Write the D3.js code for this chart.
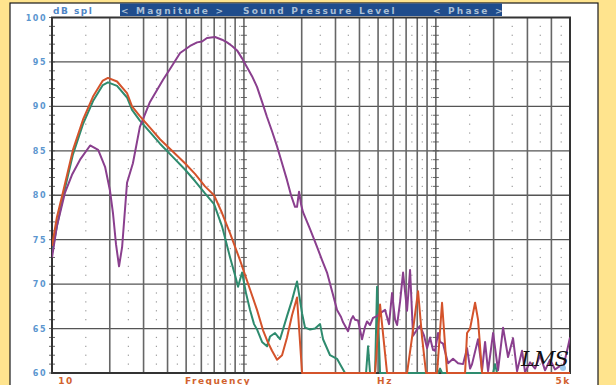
<!DOCTYPE html>
<html>
<head>
<meta charset="utf-8">
<script src="https://cdn.jsdelivr.net/npm/d3@7"></script>
<style>
  body { margin: 0; background: #ffe48e; }
  svg { display: block; font-family: "DejaVu Sans", sans-serif; }
</style>
</head>
<body>
<div id="container"></div>
<script>

// Chart data (frequency in Hz, level in dB spl)
const redSeries = [
  [10, 74.3], [10.6, 77.5], [11.4, 80.3], [12.86, 85.1], [14.5, 88.5], [16.36, 91.1],
  [18.4, 92.9], [19.57, 93.2], [21.82, 92.8], [24.6, 91.5], [26.12, 90.0], [28.7, 88.9],
  [32.4, 87.6], [36.54, 86.3], [42.2, 85.0], [49.3, 83.6], [55.6, 82.4], [62.7, 81.0],
  [69.9, 80.0], [76.9, 78.0], [84.7, 75.7], [95.4, 72.7], [107.6, 69.4], [117.0, 67.1],
  [125.8, 64.8], [133.6, 63.4], [140.1, 62.5], [148.8, 61.5], [158.0, 62.0], [167.7, 64.0],
  [178.1, 66.5], [189.1, 68.5], [200.9, 60], [482.2, 60], [512, 67.7], [556.9, 60],
  [707.9, 60], [751.6, 64], [807.8, 69.2], [847.6, 64], [889.1, 60], [1015, 60],
  [1077, 67.9], [1144, 60], [1420, 60], [1454, 64.5], [1508, 65], [1601, 67.9],
  [1659, 66], [1741, 60], [5000, 60]
];

const greenSeries = [
  [10, 73.5], [10.6, 76.5], [11.4, 79.8], [12.86, 84.6], [14.5, 88.0], [16.36, 90.6],
  [18.4, 92.4], [19.57, 92.7], [21.82, 92.3], [24.6, 91.0], [26.12, 89.6], [28.7, 88.4],
  [32.4, 87.1], [36.54, 85.8], [42.2, 84.4], [49.3, 82.9], [55.6, 81.6], [62.7, 80.2],
  [69.9, 79.0], [76.9, 76.5], [84.7, 73.0], [89.9, 71.0], [93.2, 69.7], [97.8, 71.3],
  [102.5, 69.0], [107.6, 67.1], [112.9, 65.5], [117.0, 64.9], [124.3, 63.5], [131.9, 63.0],
  [136.8, 64.1], [145.2, 64.5], [154.2, 63.8], [167.7, 66.4], [178.1, 68.2], [189.1, 70.3],
  [200.9, 66.7], [208.2, 65.1], [221.1, 64.9], [234.7, 65.0], [249.3, 65.5], [258.4, 63.8],
  [281, 62.0], [305.6, 61.6], [324.5, 60.6], [336.4, 60], [432.8, 60], [443.3, 63],
  [454.1, 60], [482.2, 60], [493.9, 69.7], [512, 60], [1027, 60], [1052, 60.5],
  [1077, 60], [1987, 60], [2035, 61], [2084, 60], [5000, 60]
];

const purpleSeries = [
  [10, 73.0], [10.6, 76.5], [11.69, 80.3], [12.71, 82.3], [14.0, 84.0], [15.8, 85.6],
  [17.4, 85.1], [18.9, 83.2], [20.06, 80.5], [20.78, 78.0], [21.55, 74.5], [22.35, 72.0],
  [23.2, 74.2], [24.6, 81.4], [26.4, 83.6], [28.7, 87.7], [32.4, 90.5], [37.9, 93.0],
  [41.2, 94.2], [46.5, 96.0], [52.4, 96.8], [57.0, 97.2], [60.5, 97.3], [64.2, 97.7],
  [70.7, 97.8], [76.9, 97.5], [81.7, 97.2], [86.7, 96.8], [92.1, 96.3], [97.8, 95.4],
  [103.8, 94.4], [110.2, 93.4], [117.0, 92.2], [124.3, 90.5], [131.9, 88.8], [140.1, 87.2],
  [148.8, 85.5], [158.0, 83.6], [167.7, 81.7], [176.0, 80.0], [184.6, 78.7], [189.1, 78.7],
  [193.7, 80.4], [198.4, 79.0], [203.2, 78.1], [221.1, 76.2], [240.4, 74.2], [255.3, 72.7],
  [271, 71.3], [287.9, 69.2], [305.6, 67.1], [320.6, 66.3], [328.5, 65.7], [348.8, 64.7],
  [361.5, 66.0], [370.3, 66.4], [379.3, 66.0], [393.2, 65.9], [412.5, 63.8], [427.6, 65.2],
  [438, 65.8], [454.1, 65.4], [470.8, 66.2], [493.9, 66.4], [518.2, 66.8], [543.7, 67.1],
  [570.4, 65.5], [591.3, 69.0], [613, 66.0], [628, 65.4], [650.9, 68.0], [674.8, 71.3],
  [707.9, 67.0], [733.9, 71.6], [760.7, 64.2], [798.1, 64.9], [827.4, 65.3], [868.2, 64.2],
  [899.9, 62.8], [932.8, 64.0], [966.9, 62.6], [990.4, 62.5], [1027, 64.5], [1052, 63.5],
  [1090, 63.3], [1158, 61.1], [1229, 61.6], [1305, 61.1], [1387, 61.0], [1454, 62.8],
  [1508, 60.5], [1544, 61.0], [1659, 63.8], [1741, 60.3], [1805, 63.5], [1871, 60.2],
  [1987, 64.5], [2109, 60.3], [2240, 65.1], [2378, 61.8], [2525, 63.9], [2649, 60.2],
  [2813, 62.5], [2916, 60.1], [3097, 61.2], [3288, 60.5], [3491, 62.0], [3707, 60.3],
  [3936, 61.5], [4180, 60.4], [4438, 60.8], [4601, 60.6], [4886, 63.0], [5000, 64.0]
];

// Axis labels
const dbTicks = [60, 65, 70, 75, 80, 85, 90, 95, 100];
const majorFreqs = [20, 30, 40, 50, 60, 70, 80, 90, 100, 200, 300, 400, 500, 600, 700, 800, 900, 1000, 2000, 3000, 4000];
const minorFreqs = [15, 25, 35, 45, 55, 65, 75, 85, 95, 150, 250, 350, 450, 550, 650, 750, 850, 950, 1500, 2500, 3500, 4500];
const rulerFreqs = [100, 1000];
const headerTexts = ["< Magnitude >", "Sound Pressure Level", "< Phase >"];

// Declare the chart dimensions
const width = 616;
const height = 385;
const marginTop = 17.5;
const marginBottom = 12;
const marginLeft = 52;
const marginRight = 46;

const x = d3.scaleLog()
    .domain([10, 5000])
    .range([marginLeft, width - marginRight]);

const y = d3.scaleLinear()
    .domain([60, 100])
    .range([height - marginBottom, marginTop]);

const svg = d3.select("#container")
    .append("svg")
    .attr("width", width)
    .attr("height", height);

// yellow backdrop + white sheet
svg.append("rect")
    .attr("width", width)
    .attr("height", height)
    .attr("fill", "#ffe48e");

svg.append("rect")
    .attr("x", 10)
    .attr("y", 3)
    .attr("width", 588)
    .attr("height", 400)
    .attr("fill", "#ffffff")
    .attr("stroke", "#1a1a1a")
    .attr("stroke-width", 1.2);

// header band
svg.append("rect")
    .attr("x", 120)
    .attr("y", 3.5)
    .attr("width", 382)
    .attr("height", 12.5)
    .attr("fill", "#1f4c8c");

svg.append("text")
    .attr("x", 53)
    .attr("y", 13.5)
    .attr("fill", "#4f86c6")
    .style("font-size", "9px")
    .style("font-weight", "bold")
    .style("letter-spacing", "1.5px")
    .text("dB spl");

svg.selectAll("text.header")
    .data(headerTexts)
    .enter()
    .append("text")
    .attr("class", "header")
    .attr("x", function(d, i) {
        return [121, 243, 433][i];
    })
    .attr("y", 13.5)
    .attr("fill", "#a9bfd6")
    .style("font-size", "9px")
    .style("font-weight", "bold")
    .style("letter-spacing", "2.2px")
    .text(function(d) { return d; });

// dotted minor lines: one dot per dB
const dotRows = d3.range(61, 100).filter(function(d) { return d % 5 !== 0; });
minorFreqs.forEach(function(f) {
    svg.selectAll(null)
        .data(dotRows)
        .enter()
        .append("rect")
        .attr("x", x(f) - 0.6)
        .attr("y", function(d) { return y(d) - 0.6; })
        .attr("width", 1.2)
        .attr("height", 1.2)
        .attr("fill", "#9a9a9a");
});

// horizontal grid lines every 5 dB
svg.selectAll("line.h")
    .data(dbTicks.slice(1, -1))
    .enter()
    .append("line")
    .attr("class", "h")
    .attr("x1", x(10))
    .attr("x2", x(5000))
    .attr("y1", function(d) { return y(d); })
    .attr("y2", function(d) { return y(d); })
    .style("stroke", "#555")
    .style("stroke-width", 1.3);

// vertical grid lines
svg.selectAll("line.v")
    .data(majorFreqs)
    .enter()
    .append("line")
    .attr("class", "v")
    .attr("x1", function(d) { return x(d); })
    .attr("x2", function(d) { return x(d); })
    .attr("y1", y(100))
    .attr("y2", y(60))
    .style("stroke", "#666")
    .style("stroke-width", 1.6);

// dB ruler ticks on the left axis and on the 100 Hz / 1 kHz lines
const rulerRows = d3.range(60, 100.5, 1);
[10].concat(rulerFreqs).forEach(function(f) {
    svg.selectAll(null)
        .data(rulerRows)
        .enter()
        .append("line")
        .attr("x1", x(f) - 3)
        .attr("x2", x(f) + 3)
        .attr("y1", function(d) { return y(d); })
        .attr("y2", function(d) { return y(d); })
        .style("stroke", "#555")
        .style("stroke-width", 0.9);
});

// plot frame
svg.append("rect")
    .attr("x", x(10))
    .attr("y", y(100))
    .attr("width", x(5000) - x(10))
    .attr("height", y(60) - y(100))
    .attr("fill", "none")
    .attr("stroke", "#333")
    .attr("stroke-width", 2);

// curves
svg.append("clipPath")
    .attr("id", "plot")
    .append("rect")
    .attr("x", x(10))
    .attr("y", y(100))
    .attr("width", x(5000) - x(10))
    .attr("height", y(60) - y(100) + 1);

const line = d3.line()
    .x(function(d) { return x(d[0]); })
    .y(function(d) { return y(d[1]); });

const curves = [
    { data: greenSeries, color: "#2e8b6e" },
    { data: purpleSeries, color: "#8a3f8e" },
    { data: redSeries, color: "#d4532b" }
];

svg.append("g")
    .attr("clip-path", "url(#plot)")
    .selectAll("path")
    .data(curves)
    .enter()
    .append("path")
    .attr("d", function(d) { return line(d.data); })
    .attr("fill", "none")
    .attr("stroke", function(d) { return d.color; })
    .attr("stroke-width", 2)
    .attr("stroke-linejoin", "round");

// y tick labels
svg.selectAll("text.ytick")
    .data(dbTicks)
    .enter()
    .append("text")
    .attr("class", "ytick")
    .attr("x", 47)
    .attr("y", function(d) { return y(d) + 3; })
    .attr("text-anchor", "end")
    .attr("fill", "#5b96cf")
    .style("font-size", "8px")
    .style("font-weight", "bold")
    .style("letter-spacing", "1.5px")
    .text(function(d) { return d; });

// x labels
const xLabels = [
    { text: "10", at: 66, anchor: "middle" },
    { text: "Frequency", at: 218, anchor: "middle" },
    { text: "Hz", at: 385, anchor: "middle" },
    { text: "5k", at: 563, anchor: "middle" }
];

svg.selectAll("text.xlab")
    .data(xLabels)
    .enter()
    .append("text")
    .attr("class", "xlab")
    .attr("x", function(d) { return d.at; })
    .attr("y", 384)
    .attr("text-anchor", function(d) { return d.anchor; })
    .attr("fill", "#d2622e")
    .style("font-size", "9px")
    .style("font-weight", "bold")
    .style("letter-spacing", "1.5px")
    .text(function(d) { return d.text; });

// signature
svg.append("circle")
    .attr("cx", 563)
    .attr("cy", 368)
    .attr("r", 3)
    .attr("fill", "#9cc8ec");

svg.append("text")
    .attr("x", 521)
    .attr("y", 366)
    .attr("fill", "#111")
    .style("font-family", "'DejaVu Serif', serif")
    .style("font-style", "italic")
    .style("font-size", "21px")
    .style("letter-spacing", "-1px")
    .text("LMS");

</script>
</body>
</html>
